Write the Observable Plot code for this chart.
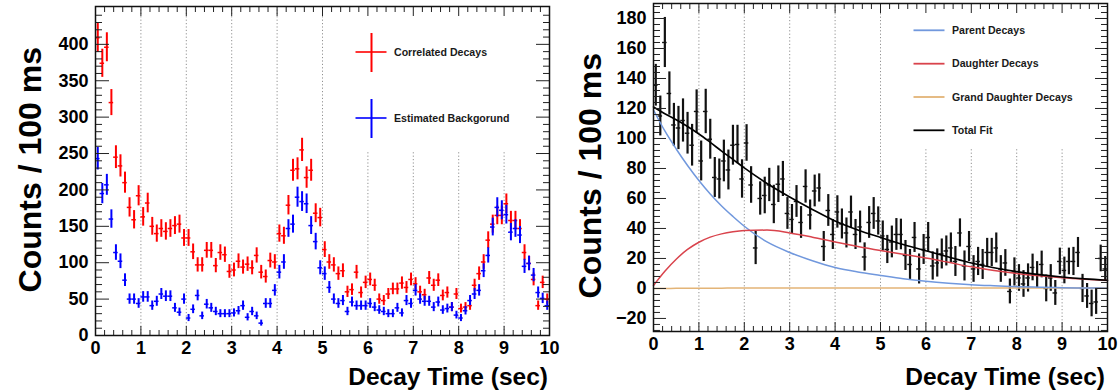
<!DOCTYPE html>
<html><head><meta charset="utf-8">
<script src="https://cdn.jsdelivr.net/npm/d3@7"></script>
<script src="https://cdn.jsdelivr.net/npm/@observablehq/plot@0.6"></script>
<style>
body{margin:0;background:#fff;font-family:"Liberation Sans",Arial,sans-serif;}
#wrap{display:flex;width:1120px;height:392px;}
.panel{position:relative;width:560px;height:392px;}
</style></head><body><div id="wrap"><div class="panel" id="left"></div><div class="panel" id="right"></div></div>
<script>
// ---- Left panel data (counts per 100 ms bin) ----
const correlated = [409,374,396,320,245,233,210,176,159,192,
  163,182,150,140,147,143,147,151,153,134,
  134,115,97,97,117,117,96,114,111,88,
  90,102,94,98,93,110,87,81,103,101,
  140,137,179,227,229,255,217,227,168,162,
  118,101,97,85,89,60,63,87,59,73,
  77,69,50,48,57,64,64,72,66,77,
  71,60,56,79,69,76,55,59,39,57,
  37,39,41,69,85,101,131,153,165,165,
  181,158,158,147,114,99,77,41,73,50];
const background = [243,195,207,160,114,102,76,50,50,44,
  53,53,41,47,57,54,54,38,32,50,
  24,36,55,27,43,38,33,30,30,30,
  31,34,41,25,33,27,17,44,44,62,
  87,101,147,153,190,184,181,151,129,93,
  85,66,50,44,48,33,46,41,41,41,
  44,39,35,33,30,30,38,31,48,44,
  62,50,47,47,39,46,35,37,39,28,
  24,34,48,57,62,89,110,149,176,172,
  166,142,147,138,95,99,83,59,51,41];
// ---- Right panel data ----
const subtracted = [135.5,115,164,130,109,107,112,103.5,95.5,118,
  85,118,99.5,74,73,85,79,95.5,96,73,
  97,69,27,60,62,69,56,69.5,73,50,
  46,58,44,68,49,65,67,28,52,36,
  51,43,37,51,36,41,21,44,50,45,
  35,26,31,36,36,22,16,34,13,26,
  34,15,17,23,25,27,18,37,15,28,
  13,18,16,24,24,27,13,17,-2,11,
  7,3,7,14,9,16,0,7,-3,18,
  12,18,18,24,0,-5,-10,-9,20,13];
const subtractedErr = [13.9,13.3,16.7,14.4,14.4,14.4,14.4,13.9,13.9,14.4,
  13.3,14.8,13.3,13.3,13.3,13.9,13.3,13.3,12.8,12.8,
  12.2,12.2,11.1,11.1,12.2,11.1,12.8,12.2,11.7,10.6,
  10,10.6,10.6,11.1,10,10.6,9.4,10,10.6,10,
  10.8,10,10,10.6,10,10.6,9.4,10.6,10.6,9.4,
  10,9.4,10.6,10.6,10.2,10,10,10,10,10,
  10,9.4,9.4,10,10,10,10,9.4,10,10,
  8.9,9.4,10,9.4,9.4,10,8.9,8.9,8.3,9.4,
  8.9,8.9,9.4,8.9,8.9,8.9,8.9,8.9,8.3,8.9,
  8.9,8.9,9.4,10,9.4,8.3,8.9,8.3,8.9,8.3];
const fitTimes = [0,0.25,0.5,0.75,1,1.25,1.5,1.75,2,2.5,3,3.5,4,4.5,5,5.5,6,6.5,7,7.5,8,8.5,9,9.5,10];
const parentFit = [119,105,93,82,72,63,55,48,41.5,31,24,18.5,14,11,8.7,6.5,4.8,3.5,2.5,1.8,1.2,0.8,0.5,0.3,0.2];
const daughterFit = [2,11.5,19.5,26,30.8,34.2,36.4,37.8,38.6,38.9,37,34.2,31,28,25.3,22.8,20.3,17.4,14.4,12,10,8.4,7.1,6.1,5.3];
const grandFit = [0,0,0.1,0.1,0.2,0.2,0.2,0.3,0.3,0.3,0.3,0.3,0.3,0.3,0.3,0.3,0.3,0.3,0.3,0.3,0.3,0.3,0.3,0.3,0.3];
const totalFit = [121,116.5,112.5,108,103,97.4,91.6,86,80.4,70,61,52.7,45,39,34,29.3,25.1,21,17,13.8,11.2,9.2,7.6,6.4,5.5];
// ---- Ticks / labels ----
const xTicks = [0,1,2,3,4,5,6,7,8,9,10];
const leftYTicks = [0,50,100,150,200,250,300,350,400];
const rightYTicks = [-20,0,20,40,60,80,100,120,140,160,180];
const leftLegend = ["Correlated Decays","Estimated Backgorund"];
const rightLegend = ["Parent Decays","Daughter Decays","Grand Daughter Decays","Total Fit"];
const yTitle = "Counts / 100 ms";
const xTitle = "Decay Time (sec)";

const binT = d3.range(100).map(i => +(0.05 + 0.1 * i).toFixed(2));
const FONT = "Liberation Sans, Arial, sans-serif";
const xMinor = d3.range(0, 10.001, 0.2).map(v => +v.toFixed(2)).filter(v => !Number.isInteger(v));

function frameTicks(yMajor, yMinor, majL, minL) {
  const hide = {tickFormat: () => "", label: null, stroke: "#222"};
  return [
    Plot.axisY(yMajor, {anchor: "left", tickSize: -majL, ...hide}),
    Plot.axisY(yMinor, {anchor: "left", tickSize: -minL, ...hide}),
    Plot.axisY(yMajor, {anchor: "right", tickSize: -majL, ...hide}),
    Plot.axisY(yMinor, {anchor: "right", tickSize: -minL, ...hide}),
    Plot.axisX(xTicks, {anchor: "bottom", tickSize: -9, ...hide}),
    Plot.axisX(xMinor, {anchor: "bottom", tickSize: -5, ...hide}),
    Plot.axisX(xTicks, {anchor: "top", tickSize: -9, ...hide}),
    Plot.axisX(xMinor, {anchor: "top", tickSize: -5, ...hide}),
    Plot.axisY(yMajor, {anchor: "left", tickSize: 0, tickPadding: 7, fontSize: 18, fontWeight: "bold", label: null, fill: "#000"}),
    Plot.axisX(xTicks, {anchor: "bottom", tickSize: 0, tickPadding: 6, fontSize: 18, fontWeight: "bold", label: null, fill: "#000"}),
    Plot.frame({stroke: "#111", strokeWidth: 1.5})
  ];
}

function errBars(vals, errs, color, wv, wh) {
  const rows = binT.map((t, i) => ({t, v: vals[i], e: errs ? errs[i] : Math.sqrt(Math.max(vals[i], 0))}));
  return [
    Plot.ruleX(rows, {x: "t", y1: d => d.v - d.e, y2: d => d.v + d.e, stroke: color, strokeWidth: wv}),
    Plot.ruleY(rows, {y: "v", x1: d => d.t - 0.05, x2: d => d.t + 0.05, stroke: color, strokeWidth: wh})
  ];
}

function titles(svg, yx, yy, xx) {
  const s = d3.select(svg);
  s.append("text").attr("transform", `translate(${yx},${yy}) rotate(-90)`)
    .attr("text-anchor", "end").attr("font-family", FONT).attr("font-weight", "bold")
    .attr("font-size", 32).attr("fill", "#000").text(yTitle);
  s.append("text").attr("x", xx).attr("y", 385)
    .attr("text-anchor", "end").attr("font-family", FONT).attr("font-weight", "bold")
    .attr("font-size", 24.5).attr("fill", "#000").text(xTitle);
}

// legend background: white box above the grid, below ticks and frame
function legendBox(svg, x, y, w, h) {
  const r = document.createElementNS("http://www.w3.org/2000/svg", "rect");
  r.setAttribute("x", x); r.setAttribute("y", y); r.setAttribute("width", w); r.setAttribute("height", h);
  r.setAttribute("style", "fill:#ffffff;stroke:none");
  svg.appendChild(r);
  svg.querySelectorAll('g[aria-label$="tick"], g[aria-label$="tick-label"], g[aria-label="frame"], [aria-label="frame"]').forEach(n => svg.appendChild(n));
}

// ---- Left chart ----
const left = Plot.plot({
  width: 560, height: 392,
  marginLeft: 95, marginRight: 11, marginTop: 6, marginBottom: 57,
  style: {fontFamily: FONT, background: "transparent"},
  x: {domain: [0, 10]},
  y: {domain: [0, 452]},
  marks: [
    Plot.gridX([1,2,3,4,5,6,7,8,9], {stroke: "#777", strokeOpacity: 0.9, strokeDasharray: "1.2,2.2", strokeWidth: 0.9}),
    ...errBars(correlated, null, "#ff0000", 2, 1.5),
    ...errBars(background, null, "#0000ff", 2, 1.5),
    ...frameTicks(leftYTicks, d3.range(0, 451, 10).filter(v => v % 50 !== 0), 14, 7)
  ]
});
document.getElementById("left").appendChild(left);
legendBox(left, 335, 7, 212, 145);
titles(left, 41, 47, 548);
{
  const s = d3.select(left);
  const cols = ["#ff0000", "#0000ff"];
  const ys = [52, 118];
  leftLegend.forEach((lab, i) => {
    s.append("line").attr("x1", 355.5).attr("x2", 386.5).attr("y1", ys[i]).attr("y2", ys[i]).attr("stroke", cols[i]).attr("stroke-width", 1.6);
    s.append("line").attr("x1", 371.5).attr("x2", 371.5).attr("y1", ys[i] - 19).attr("y2", ys[i] + 20).attr("stroke", cols[i]).attr("stroke-width", 2);
    s.append("text").attr("x", 394).attr("y", ys[i]).attr("dy", "0.35em").attr("text-anchor", "start").attr("font-family", FONT)
      .attr("font-weight", "bold").attr("font-size", 10.6).attr("fill", "#1a1a1a").text(lab);
  });
}

// ---- Right chart ----
const fitRows = (arr) => fitTimes.map((t, i) => ({t, v: arr[i]}));
const fitColors = ["#7198dd", "#d9434c", "#e3b477", "#000000"];
const right = Plot.plot({
  width: 560, height: 392,
  marginLeft: 93, marginRight: 13, marginTop: 3, marginBottom: 61,
  style: {fontFamily: FONT, background: "transparent"},
  x: {domain: [0, 10]},
  y: {domain: [-28.7, 190]},
  marks: [
    Plot.gridX([1,2,3,4,5,6,7,8,9], {stroke: "#777", strokeOpacity: 0.9, strokeDasharray: "1.2,2.2", strokeWidth: 0.9}),
    ...errBars(subtracted, subtractedErr, "#111", 2.2, 1.4),
    Plot.line(fitRows(grandFit), {x: "t", y: "v", stroke: fitColors[2], strokeWidth: 1.5, curve: "monotone-x"}),
    Plot.line(fitRows(parentFit), {x: "t", y: "v", stroke: fitColors[0], strokeWidth: 1.5, curve: "monotone-x"}),
    Plot.line(fitRows(daughterFit), {x: "t", y: "v", stroke: fitColors[1], strokeWidth: 1.5, curve: "monotone-x"}),
    Plot.line(fitRows(totalFit), {x: "t", y: "v", stroke: fitColors[3], strokeWidth: 1.6, curve: "monotone-x"}),
    ...frameTicks(rightYTicks, d3.range(-28, 190, 4).filter(v => v % 20 !== 0), 13, 7)
  ]
});
document.getElementById("right").appendChild(right);
legendBox(right, 333, 4, 213, 143);
titles(right, 41, 53, 545);
{
  const s = d3.select(right);
  const ys = [30.3, 63.7, 97, 130.3];
  rightLegend.forEach((lab, i) => {
    s.append("line").attr("x1", 353.5).attr("x2", 384.5).attr("y1", ys[i]).attr("y2", ys[i]).attr("stroke", fitColors[i]).attr("stroke-width", 1.8);
    s.append("text").attr("x", 392).attr("y", ys[i]).attr("dy", "0.35em").attr("text-anchor", "start").attr("font-family", FONT)
      .attr("font-weight", "bold").attr("font-size", 10.6).attr("fill", "#1a1a1a").text(lab);
  });
}
</script></body></html>
